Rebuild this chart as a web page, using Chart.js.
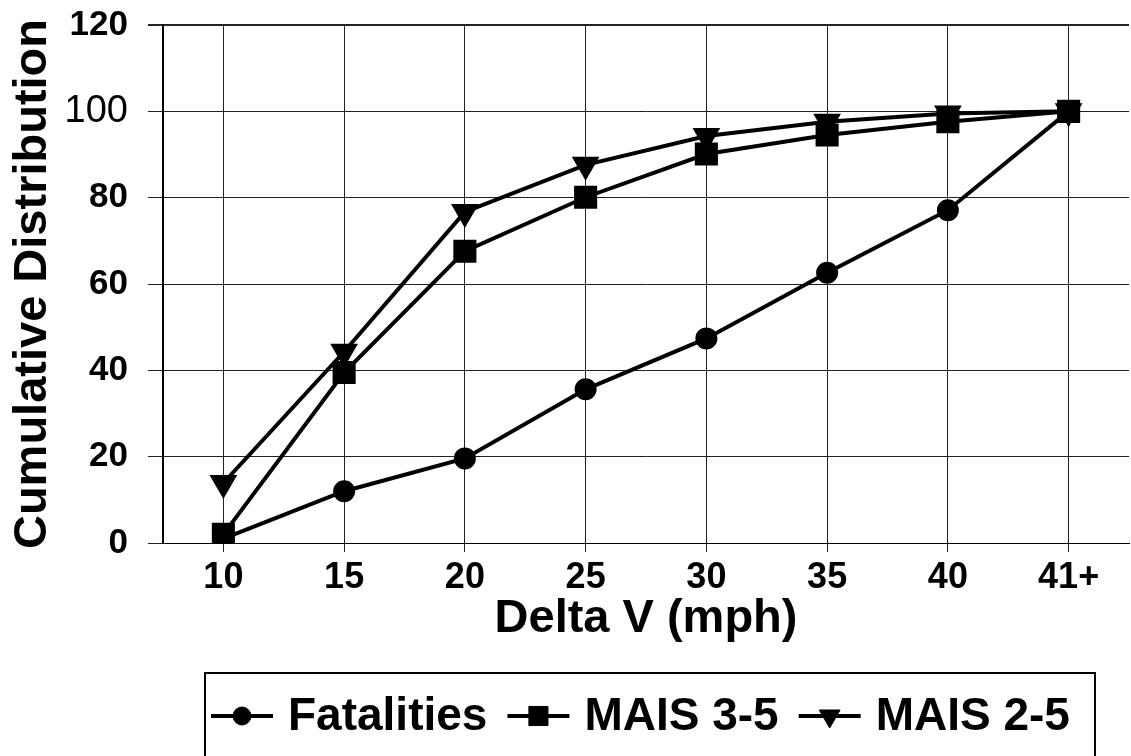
<!DOCTYPE html>
<html>
<head>
<meta charset="utf-8">
<script src="https://cdn.jsdelivr.net/npm/chart.js@4.4.1/dist/chart.umd.min.js"></script>
<style>
  html, body { margin: 0; padding: 0; background: #fff; }
  #wrap { width: 1131px; height: 756px; position: relative; }
</style>
</head>
<body>
<div id="wrap"><canvas id="c" width="1131" height="756"></canvas></div>
<script>
const categories = ['10', '15', '20', '25', '30', '35', '40', '41+'];
const fatalities = [1, 12, 19.6, 35.6, 47.4, 62.6, 77.1, 100];
const mais35 = [2, 39.5, 67.6, 80.1, 90.1, 94.5, 97.6, 100];
const mais25 = [13.9, 44.3, 76.7, 87.6, 94.3, 97.6, 99.5, 100];
const seriesLabels = ['Fatalities', 'MAIS 3-5', 'MAIS 2-5'];
const yTickLabels = [0, 20, 40, 60, 80, 100, 120];
const xTitle = 'Delta V (mph)';
const yTitle = 'Cumulative Distribution';

const FONT = '"Liberation Sans", Arial, Helvetica, sans-serif';

const legendBox = {
  id: 'legendBox',
  afterDraw(chart) {
    const ctx = chart.ctx;
    ctx.save();
    ctx.strokeStyle = '#000';
    ctx.lineWidth = 2;
    ctx.strokeRect(205, 673, 1095 - 205, 120);
    ctx.font = 'bold 46px ' + FONT;
    ctx.textBaseline = 'middle';
    const cy = 716;
    let x = 211;
    const L = 62;
    chart.data.datasets.forEach((ds) => {
      ctx.strokeStyle = '#000';
      ctx.fillStyle = '#000';
      ctx.lineWidth = 4;
      ctx.beginPath();
      ctx.moveTo(x, cy);
      ctx.lineTo(x + L, cy);
      ctx.stroke();
      ctx.lineWidth = 1;
      Chart.helpers.drawPoint(ctx, {
        pointStyle: ds.pointStyle,
        rotation: ds.pointRotation || 0,
        radius: ds.pointRadius,
        borderWidth: 1
      }, x + L / 2, cy);
      ctx.fillStyle = '#000';
      ctx.fillText(ds.label, x + L + 15, cy + 1);
      const w = ctx.measureText(ds.label).width;
      x += L + 15 + w + 20;
    });
    ctx.restore();
  }
};

const ctx = document.getElementById('c').getContext('2d');
const chart = new Chart(ctx, {
  type: 'line',
  data: {
    labels: categories,
    datasets: [
      {
        label: seriesLabels[0], data: fatalities,
        borderColor: '#000', backgroundColor: '#000', borderWidth: 4,
        pointStyle: 'circle', pointRadius: 9, pointHoverRadius: 9,
        pointBackgroundColor: '#000', pointBorderColor: '#000', tension: 0
      },
      {
        label: seriesLabels[1], data: mais35,
        borderColor: '#000', backgroundColor: '#000', borderWidth: 4,
        pointStyle: 'rect', pointRadius: 13.5, pointHoverRadius: 13.5,
        pointBackgroundColor: '#000', pointBorderColor: '#000', tension: 0
      },
      {
        label: seriesLabels[2], data: mais25,
        borderColor: '#000', backgroundColor: '#000', borderWidth: 4,
        pointStyle: 'triangle', pointRotation: 180, pointRadius: 12, pointHoverRadius: 12,
        pointBackgroundColor: '#000', pointBorderColor: '#000', tension: 0
      }
    ]
  },
  options: {
    responsive: false,
    animation: false,
    devicePixelRatio: 1,
    layout: { autoPadding: false, padding: { top: 25, right: 2, bottom: 109, left: 0 } },
    plugins: {
      legend: { display: false },
      tooltip: { enabled: false }
    },
    scales: {
      x: {
        type: 'category',
        offset: true,
        grid: {
          display: true, color: '#222', lineWidth: 1, tickLength: 9, drawOnChartArea: true
        },
        border: { display: true, color: '#000', width: 1 },
        ticks: {
          color: '#000', padding: 4, maxRotation: 0, autoSkip: false,
          font: { family: FONT, size: 36, weight: 'bold' }
        },
        title: {
          display: true, text: xTitle, color: '#000',
          font: { family: FONT, size: 47, weight: 'bold' },
          padding: { top: 0, bottom: 0 }
        },
        afterFit(scale) {
          scale.height = 104;
          scale.paddingLeft = 0; scale.paddingRight = 0;
        }
      },
      y: {
        min: 0, max: 120,
        grid: {
          color: '#222',
          lineWidth: (c) => (c.tick && c.tick.value === 120 ? 2 : 1),
          tickLength: 15
        },
        border: { display: true, color: '#000', width: 2 },
        ticks: {
          stepSize: 10, color: '#000', padding: 20,
          callback: (v) => (yTickLabels.includes(v) ? String(v) : ''),
          font: (c) => (c.tick && c.tick.value === 100
            ? { family: FONT, size: 38, weight: 'normal' }
            : { family: FONT, size: 35, weight: 'bold' })
        },
        title: {
          display: true, text: yTitle, color: '#000',
          font: { family: FONT, size: 47, weight: 'bold' },
          padding: { top: 5, bottom: 0 }
        },
        afterFit(scale) {
          scale.width = 163;
          scale.paddingTop = 0; scale.paddingBottom = 0;
        }
      }
    }
  },
  plugins: [legendBox]
});
</script>
</body>
</html>
